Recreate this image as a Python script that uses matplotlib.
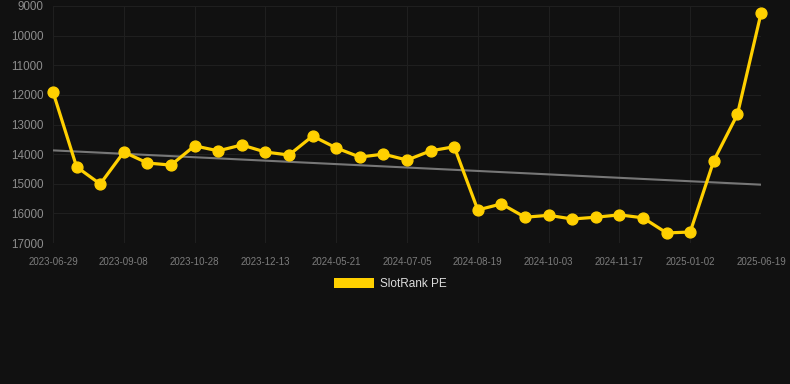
import numpy as np
import matplotlib
matplotlib.use("Agg")
import matplotlib.pyplot as plt
import matplotlib.patches as patches

plt.rcParams['font.family'] = ['Liberation Sans', 'DejaVu Sans']

# tick labels shown on the category axis (every third point)
tick_dates = ["2023-06-29", "2023-09-08", "2023-10-28", "2023-12-13", "2024-05-21",
              "2024-07-05", "2024-08-19", "2024-10-03", "2024-11-17", "2025-01-02",
              "2025-06-19"]

# SlotRank PE rank values, one per point
ranks = [11900, 14430, 15010, 13930, 14300, 14370, 13720, 13890, 13690, 13930,
         14030, 13390, 13790, 14100, 14000, 14200, 13890, 13750, 15885, 15680,
         16130, 16065, 16190, 16130, 16050, 16150, 16660, 16630, 14220, 12660,
         9250]

yticks = [9000, 10000, 11000, 12000, 13000, 14000, 15000, 16000, 17000]

bg = '#111111'
yellow = '#FFD000'

x = np.arange(len(ranks))
slope, icpt = np.polyfit(x, ranks, 1)

fig = plt.figure(figsize=(7.9, 3.84), dpi=100, facecolor=bg)
ax = fig.add_axes([53/790, 1 - 243/384, (761-53)/790, (243-6)/384])
ax.set_facecolor(bg)

# trend line
ax.plot(x, slope * x + icpt, color='#777777', lw=1.5, zorder=2)
ax.plot(x, ranks, color=yellow, lw=2.3, marker='o', ms=7.8, zorder=3,
        clip_on=False)

ax.set_xlim(0, len(ranks) - 1)
ax.set_ylim(17000, 9000)
ax.set_yticks(yticks)
ax.set_yticklabels([str(v) for v in yticks], fontsize=8.4, color='#8c8c8c')
ax.set_xticks(x[::3])
ax.set_xticklabels(tick_dates, fontsize=7, color='#7c7c7c')
ax.tick_params(axis='x', length=0, pad=10)
ax.tick_params(axis='y', length=0, pad=7)

ax.grid(True, color='#1f1f1f', lw=0.8)
ax.set_axisbelow(True)
for s in ax.spines.values():
    s.set_visible(False)

handle = patches.Patch(facecolor=yellow, edgecolor='none', label='SlotRank PE')
leg = fig.legend(handles=[handle], loc='center', bbox_to_anchor=(390/790, 1 - 284/384),
                 frameon=False, fontsize=8.5, handlelength=3.4, handleheight=1.0,
                 handletextpad=0.5)
for t in leg.get_texts():
    t.set_color('#dddddd')

fig.savefig('out.png', dpi=100, facecolor=bg)
